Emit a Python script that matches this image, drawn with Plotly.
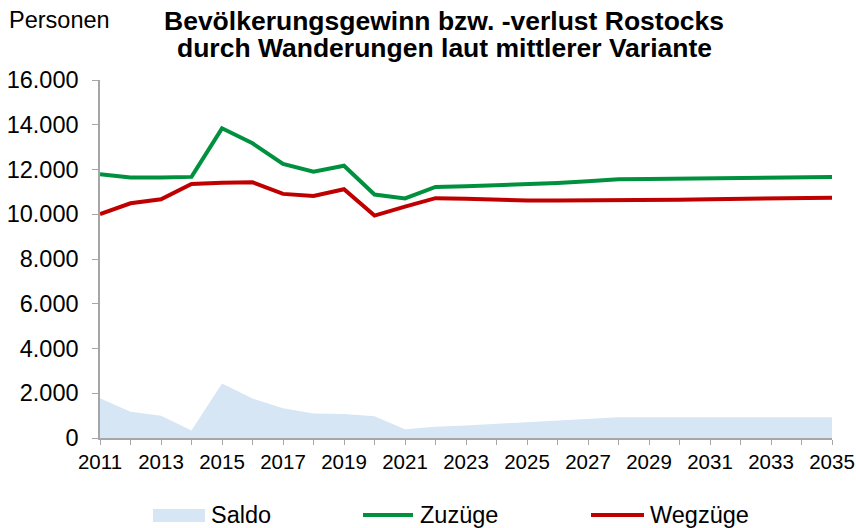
import plotly.graph_objects as go

years = list(range(2011, 2036))
zuzuege = [11790, 11640, 11640, 11670, 13840, 13170, 12250, 11900, 12170, 10880, 10710, 11220,
           11250, 11290, 11340, 11400, 11470, 11560, 11580, 11590, 11600, 11620, 11640, 11650, 11670]
wegzuege = [10010, 10490, 10670, 11350, 11410, 11430, 10910, 10820, 11120, 9940, 10340, 10720,
            10690, 10650, 10620, 10620, 10620, 10630, 10640, 10650, 10670, 10690, 10700, 10720, 10740]
saldo = [1780, 1170, 990, 330, 2440, 1760, 1330, 1100, 1070, 970, 390, 500,
         560, 630, 710, 780, 850, 930, 930, 930, 930, 930, 930, 930, 930]
series_names = ["Saldo", "Zuzüge", "Wegzüge"]
colors = ["#d6e6f4", "#00913f", "#c00000"]

FONT = "Liberation Sans, Arial, sans-serif"
OFF = 0  # body margin removed by post_script below
W, H = 856 - OFF, 528 - OFF
# plot area in page pixels: x 100..832, y 80..438
L, T = 100 - OFF, 80 - OFF
R = W - (832 - OFF)
B = H - (438 - OFF)
pw, ph = W - L - R, H - T - B


def px2paper(px, py):
    """page pixel -> paper coords"""
    fx, fy = px - OFF, py - OFF
    return (fx - L) / pw, (H - B - fy) / ph


fig = go.Figure()
fig.add_trace(go.Scatter(x=years, y=saldo, name=series_names[0], mode="lines", fill="tozeroy",
                         line=dict(width=0, color=colors[0]), fillcolor=colors[0]))
fig.add_trace(go.Scatter(x=years, y=zuzuege, name=series_names[1], mode="lines",
                         line=dict(width=4, color=colors[1])))
fig.add_trace(go.Scatter(x=years, y=wegzuege, name=series_names[2], mode="lines",
                         line=dict(width=4, color=colors[2])))

annotations = []
for txt, py in [("<b>Bevölkerungsgewinn bzw. -verlust Rostocks</b>", 21),
                ("<b>durch Wanderungen laut mittlerer Variante</b>", 47.5)]:
    x, y = px2paper(444, py)
    annotations.append(dict(text=txt, x=x, y=y, xref="paper", yref="paper", showarrow=False,
                            xanchor="center", yanchor="middle", font=dict(size=26.5)))

ax, ay = px2paper(7, 20)
annotations.append(dict(text="Personen", x=ax, y=ay, xref="paper", yref="paper", showarrow=False,
                        xanchor="left", yanchor="middle", font=dict(size=23.5)))

shapes = []
# custom legend
ly = 515
x0, y0 = px2paper(153, 509)
x1, y1 = px2paper(205, 522)
shapes.append(dict(type="rect", xref="paper", yref="paper", x0=x0, x1=x1, y0=y1, y1=y0,
                   fillcolor=colors[0], line=dict(width=0)))
for (lx0, lx1), c in zip([(363, 413), (591, 644)], colors[1:]):
    a0, b0 = px2paper(lx0, ly)
    a1, _ = px2paper(lx1, ly)
    shapes.append(dict(type="line", xref="paper", yref="paper", x0=a0, x1=a1, y0=b0, y1=b0,
                       line=dict(color=c, width=4)))
for tx, name in zip([209, 418, 648], series_names):
    a0, b0 = px2paper(tx, ly)
    annotations.append(dict(text=name, x=a0, y=b0, xref="paper", yref="paper", showarrow=False,
                            xanchor="left", yanchor="middle", font=dict(size=23.5)))

fig.update_layout(
    width=W, height=H,
    margin=dict(l=L, r=R, t=T, b=B, pad=0, autoexpand=False),
    paper_bgcolor="white", plot_bgcolor="white",
    separators=",.",
    font=dict(family=FONT, size=22, color="black"),
    showlegend=False,
    xaxis=dict(range=[2011, 2035], dtick=2, tick0=2011, showgrid=False, automargin=False,
               showline=True, linecolor="#a6a6a6", linewidth=1.5,
               ticks="outside", ticklen=5, tickcolor="#a6a6a6", ticklabeloverflow="allow",
               minor=dict(dtick=1, ticks="outside", ticklen=5, tickcolor="#a6a6a6"),
               tickfont=dict(size=20.5), zeroline=False),
    yaxis=dict(range=[0, 16000], dtick=2000, tickformat=",.0f", showgrid=False, automargin=False,
               showline=True, linecolor="#a6a6a6", linewidth=1.5,
               ticks="outside", ticklen=6, tickcolor="#a6a6a6", ticklabelstandoff=9,
               ticklabeloverflow="allow",
               tickfont=dict(size=23.5), zeroline=False),
    annotations=annotations,
    shapes=shapes,
)

fig.write_html("out.html", config={"displayModeBar": False},
               post_script="document.body.style.margin='0';document.body.style.overflow='hidden';")
